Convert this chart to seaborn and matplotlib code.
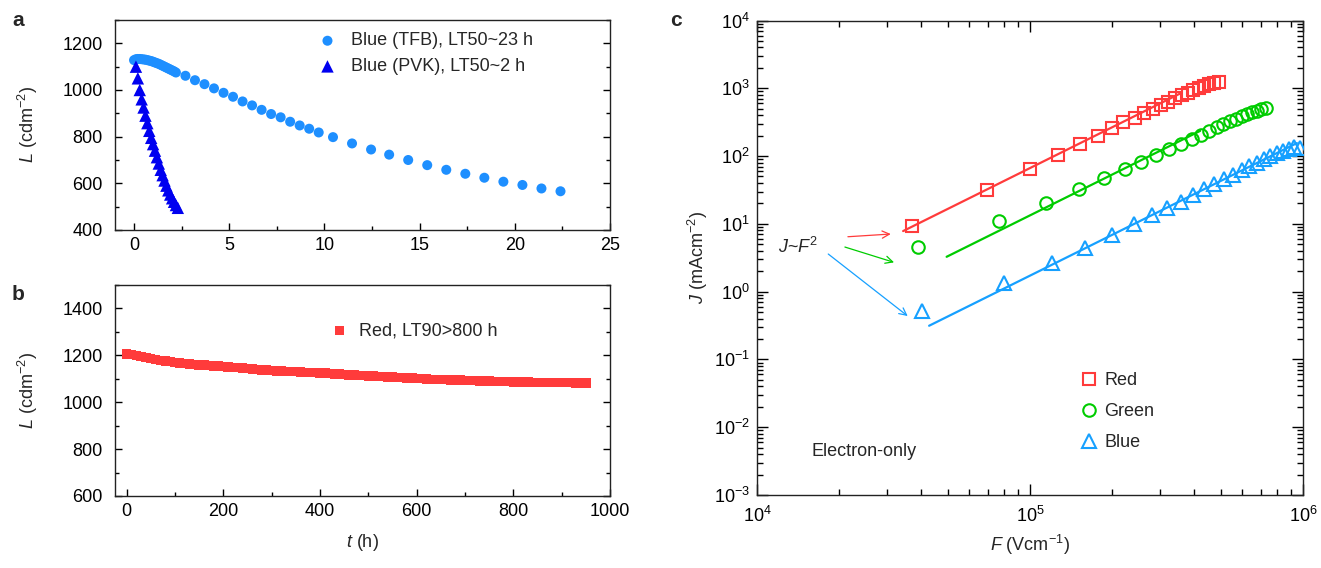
import numpy as np
import matplotlib
matplotlib.use("Agg")
import matplotlib.pyplot as plt
from matplotlib.ticker import MultipleLocator, LogLocator, NullFormatter
import seaborn as sns

# ---------------- data ----------------
# panel a : Blue (TFB)
tfb_t = [0.0, 0.1, 0.2, 0.3, 0.4, 0.5, 0.6, 0.7, 0.8, 0.9, 1.0, 1.1, 1.2, 1.3, 1.4,
         1.5, 1.6, 1.7, 1.8, 1.9, 2.0, 2.1, 2.2,
         2.7, 3.2, 3.7, 4.2, 4.7, 5.2, 5.7, 6.2, 6.7, 7.2, 7.7, 8.2, 8.7, 9.2, 9.7,
         10.45, 11.45, 12.45, 13.4, 14.4, 15.4, 16.4, 17.4, 18.4, 19.4, 20.4, 21.4, 22.4]
tfb_L = [1128, 1132, 1133, 1133, 1132, 1131, 1130, 1128, 1126, 1124, 1121, 1118, 1115, 1112, 1108,
         1104, 1100, 1096, 1092, 1088, 1084, 1080, 1075,
         1061, 1042, 1025, 1007, 988, 971, 951, 934, 915, 897, 883, 864, 848, 834, 818,
         798, 771, 745, 723, 700, 678, 658, 641, 624, 607, 593, 578, 566]
# panel a : Blue (PVK)
pvk_t = [0.1, 0.2, 0.3, 0.4, 0.5, 0.6, 0.7, 0.8, 0.9, 1.0, 1.1, 1.2, 1.3, 1.4, 1.5,
         1.6, 1.7, 1.8, 1.9, 2.0, 2.1, 2.2, 2.3]
pvk_L = [1100, 1050, 1000, 960, 925, 890, 858, 825, 795, 768, 740, 712, 685, 658, 635,
         612, 590, 570, 552, 536, 521, 507, 495]

# panel b : Red
red_t = [0, 10, 20, 30, 40, 50, 60, 70, 80, 90,
         100, 110, 120, 130, 140, 150, 160, 170, 180, 190,
         200, 210, 220, 230, 240, 250, 260, 270, 280, 290,
         300, 310, 320, 330, 340, 350, 360, 370, 380, 390,
         400, 410, 420, 430, 440, 450, 460, 470, 480, 490,
         500, 510, 520, 530, 540, 550, 560, 570, 580, 590,
         600, 610, 620, 630, 640, 650, 660, 670, 680, 690,
         700, 710, 720, 730, 740, 750, 760, 770, 780, 790,
         800, 810, 820, 830, 840, 850, 860, 870, 880, 890,
         900, 910, 920, 930, 940, 950]
red_L = [1205, 1203, 1200, 1196, 1191, 1187, 1183, 1179, 1176, 1173,
         1170, 1168, 1165, 1163, 1161, 1159, 1158, 1156, 1155, 1154,
         1152, 1151, 1149, 1147, 1146, 1144, 1142, 1140, 1138, 1137,
         1135, 1134, 1133, 1132, 1131, 1130, 1129, 1128, 1127, 1126,
         1125, 1124, 1122, 1121, 1120, 1118, 1117, 1116, 1114, 1113,
         1112, 1111, 1110, 1109, 1108, 1107, 1106, 1105, 1104, 1103,
         1101, 1100, 1099, 1098, 1097, 1097, 1096, 1095, 1094, 1094,
         1093, 1092, 1092, 1091, 1090, 1090, 1089, 1089, 1088, 1088,
         1087, 1087, 1086, 1086, 1085, 1085, 1085, 1084, 1084, 1084,
         1083, 1083, 1083, 1082, 1082, 1082]

# panel c : electron-only J-F
c_red_F = [3.71e4, 6.98e4, 1.00e5, 1.27e5, 1.53e5, 1.77e5, 1.99e5, 2.20e5, 2.42e5, 2.62e5,
           2.82e5, 3.01e5, 3.21e5, 3.39e5, 3.59e5, 3.78e5, 3.96e5, 4.16e5, 4.35e5, 4.54e5,
           4.74e5, 4.93e5]
c_red_J = [9.35, 31.3, 63.7, 105, 152, 200, 258, 313, 367, 435,
           498, 562, 631, 713, 789, 864, 946, 1013, 1084, 1145,
           1200, 1225]
c_green_F = [3.88e4, 7.71e4, 1.14e5, 1.51e5, 1.87e5, 2.22e5, 2.56e5, 2.90e5, 3.22e5, 3.56e5,
             3.91e5, 4.23e5, 4.54e5, 4.83e5, 5.11e5, 5.39e5, 5.67e5, 5.96e5, 6.23e5, 6.50e5,
             6.78e5, 7.03e5, 7.31e5]
c_green_J = [4.5, 11.2, 20.6, 32.4, 47.0, 64.4, 82.7, 105, 127, 150,
             178, 208, 236, 267, 299, 327, 358, 387, 420, 444,
             470, 491, 515]
c_blue_F = [4.01e4, 8.05e4, 1.20e5, 1.59e5, 2.00e5, 2.40e5, 2.79e5, 3.18e5, 3.57e5, 3.96e5,
            4.35e5, 4.74e5, 5.14e5, 5.55e5, 5.96e5, 6.35e5, 6.76e5, 7.17e5, 7.59e5, 8.00e5,
            8.43e5, 8.87e5, 9.30e5, 9.78e5]
c_blue_J = [0.51, 1.36, 2.62, 4.43, 6.9, 9.8, 13.3, 17.0, 21.3, 26.4,
            32.4, 38.4, 45.4, 53.2, 61.6, 70.6, 80.0, 89.4, 100, 110,
            119, 128, 137, 133]

# J ~ F^2 fits: log10 prefactor and F range
fit_logA = {"Red": -8.177, "Green": -8.875, "Blue": -9.764}
fit_range = {"Red": [3.43e4, 3.6e5], "Green": [4.95e4, 4.2e5], "Blue": [4.27e4, 9.5e5]}

# ---------------- style ----------------
sns.set_style("ticks")
plt.rcParams['font.family'] = ['Liberation Sans', 'DejaVu Sans']
plt.rcParams['mathtext.fontset'] = 'custom'
plt.rcParams['mathtext.rm'] = 'Liberation Sans'
plt.rcParams['mathtext.it'] = 'Liberation Sans:italic'
plt.rcParams['mathtext.bf'] = 'Liberation Sans:bold'
plt.rcParams['font.size'] = 13
plt.rcParams['axes.linewidth'] = 1.0

FS = 13
c_tfb = "#1E8FFF"
c_pvk = "#0000F0"
c_red = "#FF3B3B"
c_green = "#00CC00"
c_blue = "#16A0FF"

fig = plt.figure(figsize=(13.21, 5.68), dpi=100)
axa = fig.add_axes([115/1321, 1-230/568, 495/1321, 210/568])
axb = fig.add_axes([115/1321, 1-496/568, 495/1321, 211/568])
axc = fig.add_axes([757/1321, 1-495/568, 546/1321, 474.5/568])

def style_lin(ax):
    ax.tick_params(which='both', direction='in', left=True, right=True, bottom=True, top=False,
                   labelsize=FS, colors='black')
    ax.tick_params(which='major', length=5, width=1.0)
    ax.tick_params(which='minor', length=3, width=1.0)
    ax.tick_params(axis='y', which='major', pad=9)
    ax.tick_params(axis='x', which='major', pad=5)
    for s in ax.spines.values():
        s.set_visible(True)
        s.set_linewidth(1.0)
        s.set_color('#222222')

# ---- panel a ----
sns.scatterplot(x=tfb_t, y=tfb_L, ax=axa, marker='o', s=52, color=c_tfb, edgecolor='none',
                label="Blue (TFB), LT50~23 h", zorder=3)
sns.scatterplot(x=pvk_t, y=pvk_L, ax=axa, marker='^', s=80, color=c_pvk, edgecolor='none',
                label="Blue (PVK), LT50~2 h", zorder=4)
axa.set_xlim(-1, 25)
axa.set_ylim(400, 1300)
axa.xaxis.set_major_locator(MultipleLocator(5))
axa.xaxis.set_minor_locator(MultipleLocator(2.5))
axa.yaxis.set_major_locator(MultipleLocator(200))
axa.yaxis.set_minor_locator(MultipleLocator(100))
style_lin(axa)
axa.set_ylabel(r"$L$ (cdm$^{-2}$)", fontsize=FS, labelpad=16)
axa.set_xlabel("")
axa.legend(loc='center left', bbox_to_anchor=(0.411, 0.839), frameon=False, fontsize=FS,
           handlelength=1.0, handletextpad=0.83, labelspacing=0.48, borderpad=0, borderaxespad=0)

# ---- panel b ----
sns.scatterplot(x=red_t, y=red_L, ax=axb, marker='s', s=46, color=c_red, edgecolor='none',
                label="Red, LT90>800 h", zorder=3)
axb.set_xlim(-24, 1000)
axb.set_ylim(600, 1500)
axb.xaxis.set_major_locator(MultipleLocator(200))
axb.xaxis.set_minor_locator(MultipleLocator(100))
axb.yaxis.set_major_locator(MultipleLocator(200))
axb.yaxis.set_minor_locator(MultipleLocator(100))
style_lin(axb)
axb.set_ylabel(r"$L$ (cdm$^{-2}$)", fontsize=FS, labelpad=16)
axb.set_xlabel(r"$t$ (h)", fontsize=FS, labelpad=9)
axb.legend(loc='center left', bbox_to_anchor=(0.435, 0.782), frameon=False, fontsize=FS,
           handlelength=1.0, handletextpad=0.61, borderpad=0, borderaxespad=0)

# ---- panel c ----
axc.set_xscale('log')
axc.set_yscale('log')
series = [("Red", c_red_F, c_red_J, c_red, 's', 8.0),
          ("Green", c_green_F, c_green_J, c_green, 'o', 9.0),
          ("Blue", c_blue_F, c_blue_J, c_blue, '^', 10.0)]
for name, F, J, col, mk, ms in series:
    fr = np.array(fit_range[name])
    sns.lineplot(x=fr, y=10**fit_logA[name] * fr**2, ax=axc, color=col, lw=1.6, zorder=2)
for name, F, J, col, mk, ms in series:
    sns.lineplot(x=F, y=J, ax=axc, marker=mk, linestyle='', color=col, markersize=ms,
                 markerfacecolor='none', markeredgecolor=col, markeredgewidth=1.5,
                 label=name, zorder=3)
axc.set_xlim(1e4, 1e6)
axc.set_ylim(1e-3, 1e4)
axc.yaxis.set_major_locator(LogLocator(base=10, numticks=20))
axc.yaxis.set_minor_locator(LogLocator(base=10, subs=np.arange(2, 10), numticks=20))
axc.yaxis.set_minor_formatter(NullFormatter())
axc.xaxis.set_minor_formatter(NullFormatter())
axc.tick_params(which='both', direction='in', left=True, right=True, bottom=True, top=True,
                labelsize=FS, colors='black')
axc.tick_params(which='major', length=8, width=1.0)
axc.tick_params(axis='y', which='major', pad=5)
axc.tick_params(axis='x', which='major', pad=8)
axc.tick_params(which='minor', length=4, width=1.0)
for s in axc.spines.values():
    s.set_visible(True)
    s.set_linewidth(1.0)
    s.set_color('#222222')
axc.set_xlabel(r"$F$ (Vcm$^{-1}$)", fontsize=FS, labelpad=5)
axc.set_ylabel(r"$J$ (mAcm$^{-2}$)", fontsize=FS, labelpad=3)
axc.legend(loc='center left', bbox_to_anchor=(0.595, 0.1756), frameon=False, fontsize=FS,
           handlelength=0.8, handletextpad=0.43, labelspacing=0.77, borderpad=0, borderaxespad=0)

# annotations J ~ F^2
arrows = [(c_red, (10**4.333, 10**0.810), (10**4.490, 10**0.850)),
          (c_green, (10**4.322, 10**0.658), (10**4.502, 10**0.432)),
          (c_blue, (10**4.261, 10**0.555), (10**4.552, 10**-0.360))]
for col, start, end in arrows:
    axc.annotate("", xy=end, xytext=start,
                 arrowprops=dict(arrowstyle='->', color=col, lw=0.9, shrinkA=0, shrinkB=0))
axc.text(10**4.150, 10**0.665, r"$J$~$F^2$", ha='center', va='center', fontsize=FS)
axc.text(10**4.200, 10**-2.358, "Electron-only", ha='left', va='center', fontsize=FS)

# panel letters
fig.text(18/1321, 1-20/568, "a", fontsize=15, fontweight='bold', va='center', ha='center')
fig.text(18/1321, 1-295/568, "b", fontsize=15, fontweight='bold', va='center', ha='center')
fig.text(676/1321, 1-20/568, "c", fontsize=15, fontweight='bold', va='center', ha='center')

fig.savefig("out.png", dpi=100)
